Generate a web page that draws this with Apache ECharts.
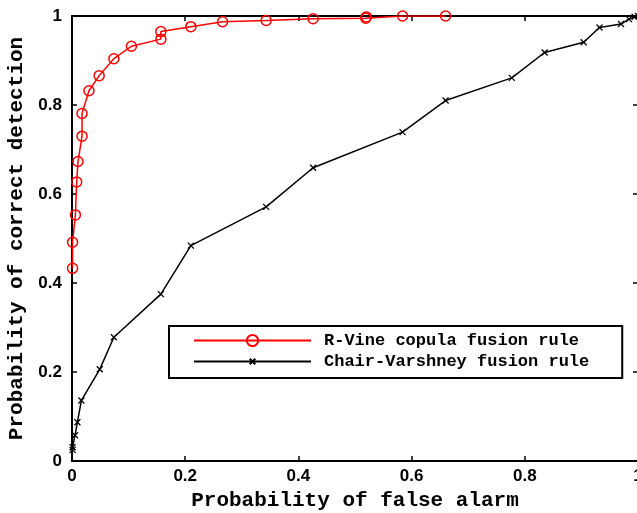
<!DOCTYPE html>
<html>
<head>
<meta charset="utf-8">
<script src="https://cdn.jsdelivr.net/npm/echarts@6/dist/echarts.min.js"></script>
<style>
html,body{margin:0;padding:0;background:#fff;}
#c{width:637px;height:513px;}
</style>
</head>
<body>
<div id="c"></div>
<script>
var seriesNames = ['R-Vine copula fusion rule', 'Chair-Varshney fusion rule'];
var xTicks = [0, 0.2, 0.4, 0.6, 0.8, 1];
var yTicks = [0, 0.2, 0.4, 0.6, 0.8, 1];
var redX = [0.001, 0.001, 0.006, 0.0083, 0.0106, 0.0177, 0.0177, 0.030, 0.048, 0.074, 0.105, 0.157, 0.157, 0.210, 0.266, 0.343, 0.426, 0.519, 0.520, 0.584, 0.660];
var redY = [0.433, 0.4915, 0.553, 0.627, 0.673, 0.730, 0.781, 0.832, 0.866, 0.904, 0.932, 0.948, 0.965, 0.976, 0.987, 0.990, 0.994, 0.995, 0.998, 1.0, 1.0];
var blackX = [0.001, 0.001, 0.0053, 0.0095, 0.0166, 0.049, 0.074, 0.157, 0.210, 0.343, 0.426, 0.584, 0.660, 0.777, 0.835, 0.904, 0.932, 0.970, 0.984, 0.994, 1.0];
var blackY = [0.025, 0.031, 0.058, 0.087, 0.136, 0.206, 0.278, 0.375, 0.484, 0.571, 0.659, 0.739, 0.810, 0.861, 0.918, 0.941, 0.974, 0.982, 0.993, 0.998, 1.0];

function pairs(xs, ys){ return xs.map(function(x,i){ return [x, ys[i]]; }); }

var chart = echarts.init(document.getElementById('c'), null, {renderer:'canvas'});
var tickFont = {fontFamily:'Liberation Sans', fontWeight:'bold', fontSize:17, color:'#000'};
var nameFont = {fontFamily:'Liberation Mono', fontWeight:'bold', fontSize:21, color:'#000'};
// cross occupies the middle half of its bounding box (outer moveTo points pad the box)
var crossPath = 'path://M-10,-10M30,30M0,0L20,20M20,0L0,20';

function baseAxis(extra){
  var a = {
    type:'value', min:0, max:1, interval:0.2,
    splitLine:{show:false},
    axisLine:{show:true, onZero:false, lineStyle:{color:'#000', width:2}},
    axisTick:{show:true, inside:true, length:5, lineStyle:{color:'#000', width:1.5}},
    axisLabel:Object.assign({show:true}, tickFont)
  };
  return Object.assign(a, extra);
}

var option = {
  backgroundColor:'#fff',
  animation:false,
  grid:{left:72, top:16, width:566, height:445, containLabel:false, outerBoundsMode:'none'},
  xAxis:[
    baseAxis({position:'bottom', name:'Probability of false alarm', nameLocation:'middle', nameGap:27, nameTextStyle:nameFont,
      axisLabel:Object.assign({show:true, margin:7}, tickFont)}),
    baseAxis({position:'top', axisLabel:{show:false}})
  ],
  yAxis:[
    baseAxis({position:'left', name:'Probability of correct detection', nameLocation:'middle', nameGap:38, nameRotate:90, nameTextStyle:nameFont,
      axisLabel:Object.assign({show:true, margin:10}, tickFont)}),
    baseAxis({position:'right', axisLabel:{show:false}})
  ],
  legend:{
    show:true, orient:'vertical', left:169, top:326,
    data:seriesNames,
    backgroundColor:'#fff', borderColor:'#000', borderWidth:2, borderRadius:0,
    padding:[6, 33, 8, 24], itemGap:4, itemWidth:117, itemHeight:14,
    textStyle:{fontFamily:'Liberation Mono', fontWeight:'bold', fontSize:17, color:'#000', padding:[0,0,0,8]}
  },
  series:[
    {
      name:seriesNames[0], type:'line', data:pairs(redX, redY),
      symbol:'circle', symbolSize:10, showAllSymbol:true,
      lineStyle:{color:'#ff0000', width:1.5},
      itemStyle:{color:'rgba(255,255,255,0)', borderColor:'#ff0000', borderWidth:1.5},
      z:3
    },
    {
      name:seriesNames[1], type:'line', data:pairs(blackX, blackY),
      symbol:crossPath, symbolSize:12, showAllSymbol:true,
      lineStyle:{color:'#000', width:1.5},
      itemStyle:{color:'rgba(0,0,0,0)', borderColor:'#000', borderWidth:1.3},
      z:2
    }
  ]
};
chart.setOption(option);
</script>
</body>
</html>
